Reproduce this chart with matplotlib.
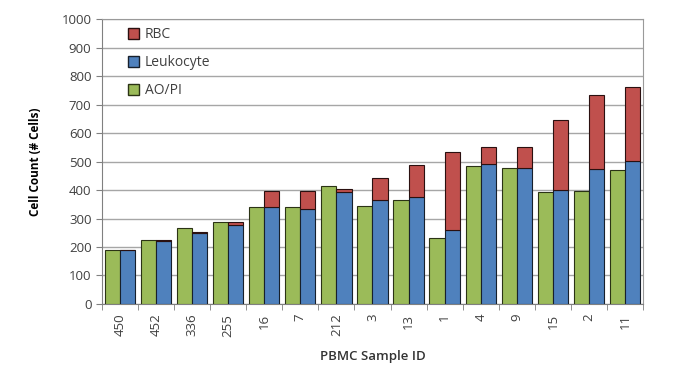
import matplotlib.pyplot as plt
import numpy as np
from matplotlib.patches import Patch

plt.rcParams["font.family"] = ["Open Sans", "DejaVu Sans"]

samples = ["450", "452", "336", "255", "16", "7", "212", "3", "13", "1", "4", "9", "15", "2", "11"]
aopi = [189, 224, 265, 289, 340, 339, 414, 345, 365, 230, 485, 476, 394, 398, 470]
leuko = [189, 222, 250, 277, 341, 335, 394, 365, 374, 258, 491, 476, 400, 472, 503]
rbc = [0, 3, 4, 12, 57, 63, 11, 78, 112, 275, 59, 76, 246, 261, 260]

green = "#9BBB59"
blue = "#4F81BD"
red = "#C0504D"

fig = plt.figure(figsize=(6.93, 3.92), dpi=100)
ax = fig.add_axes([0.147, 0.2245, 0.781, 0.727])

x = np.arange(len(samples))
w = 0.42
ax.bar(x - w / 2, aopi, w, color=green, edgecolor="#2b3315", linewidth=0.8, zorder=3)
ax.bar(x + w / 2, leuko, w, color=blue, edgecolor="#17202c", linewidth=0.8, zorder=3)
ax.bar(x + w / 2, rbc, w, bottom=leuko, color=red, edgecolor="#2a1010", linewidth=0.8, zorder=3)

ax.set_xlim(-0.5, len(samples) - 0.5)
ax.set_ylim(0, 1000)
ax.set_yticks(range(0, 1001, 100))
ax.yaxis.grid(True, color="#a6a6a6", linewidth=1.0, zorder=0)
ax.set_axisbelow(True)

ax.set_xticks(x)
ax.set_xticklabels(samples, rotation=90, fontsize=9.5, color="#404040")
ax.set_xticks(np.arange(-0.5, len(samples)), minor=True)
ax.tick_params(axis="x", which="major", length=0, pad=7)
ax.tick_params(axis="x", which="minor", length=4, color="#808080")
ax.tick_params(axis="y", labelsize=9.5, labelcolor="#404040", length=4, color="#808080")

for s in ["left", "bottom"]:
    ax.spines[s].set_color("#808080")
for s in ["top", "right"]:
    ax.spines[s].set_color("#9a9a9a")

ax.set_ylabel("Cell Count (# Cells)", fontsize=8.5, fontweight="bold", labelpad=14)
ax.set_xlabel("PBMC Sample ID", fontsize=9.5, fontweight="semibold", labelpad=10, color="#333333")

handles = [Patch(facecolor=red, edgecolor="#2a1010"),
           Patch(facecolor=blue, edgecolor="#17202c"),
           Patch(facecolor=green, edgecolor="#2b3315")]
ax.legend(handles, ["RBC", "Leukocyte", "AO/PI"], loc="upper left",
          bbox_to_anchor=(0.025, 1.015), frameon=False, fontsize=10,
          labelspacing=0.93, handlelength=0.8, handleheight=0.8, handletextpad=0.4,
          labelcolor="#404040")

fig.savefig("out.png", dpi=100)
